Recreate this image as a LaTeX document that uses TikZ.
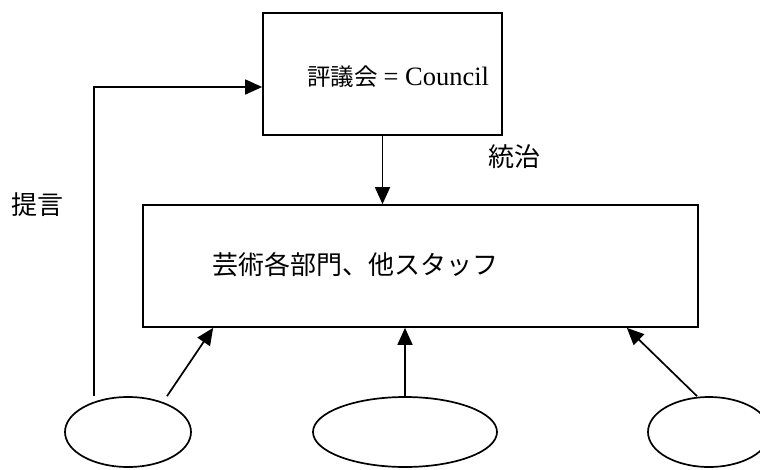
\documentclass[tikz,border=0pt]{standalone}
\usepackage{fontspec}
\setmainfont{Liberation Serif}
\newfontfamily\jp{Noto Sans CJK JP}
\usetikzlibrary{shapes.geometric,arrows.meta,calc}
\begin{document}
\begin{tikzpicture}[x=1pt,y=-1pt,
  box/.style={draw,line width=1.7pt,inner sep=0pt},
  oval/.style={draw,ellipse,line width=1.7pt,inner sep=0pt},
  arr/.style={line width=1.7pt,-{Triangle[length=17pt,width=15pt]}},
  jlabel/.style={font=\jp\fontsize{26}{30}\selectfont,inner sep=0pt}]
\useasboundingbox (0,0) rectangle (760,469);
\node[box,minimum width=239pt,minimum height=122pt] (top) at (382.5,74) {};
\node[inner sep=0pt] (toptext) at (398,77) {{\jp\fontsize{23.5}{27}\selectfont 評議会}\hspace{6pt}{\fontsize{26.5}{30}\selectfont = Council}};
\node[box,minimum width=555pt,minimum height=122pt] (main) at (420.5,266) {};
\node[jlabel,anchor=west] (maintext) at (212,265) {芸術各部門、他スタッフ};
\node[jlabel] (tochi) at (514,157) {統治};
\node[jlabel] (teigen) at (38,205) {提言};
\node[oval,minimum width=126pt,minimum height=70pt] (e1) at (128,432) {};
\node[oval,minimum width=184pt,minimum height=70pt] (e2) at (405,432) {};
\node[oval,minimum width=122pt,minimum height=70pt] (e3) at (709,432) {};
\draw[arr] (top.south) -- (top.south |- main.north);
\draw[arr] (e2.north) -- (e2.north |- main.south);
\draw[arr] ($(e1.north)+(39,0)$) -- ($(main.south west)+(71,0)$);
\draw[arr] ($(e3.north)+(-12,0)$) -- ($(main.south east)+(-72,0)$);
\draw[arr] ($(e1.north)+(-34,0)$) |- ($(top.west)+(0,13)$);
\end{tikzpicture}
\end{document}
